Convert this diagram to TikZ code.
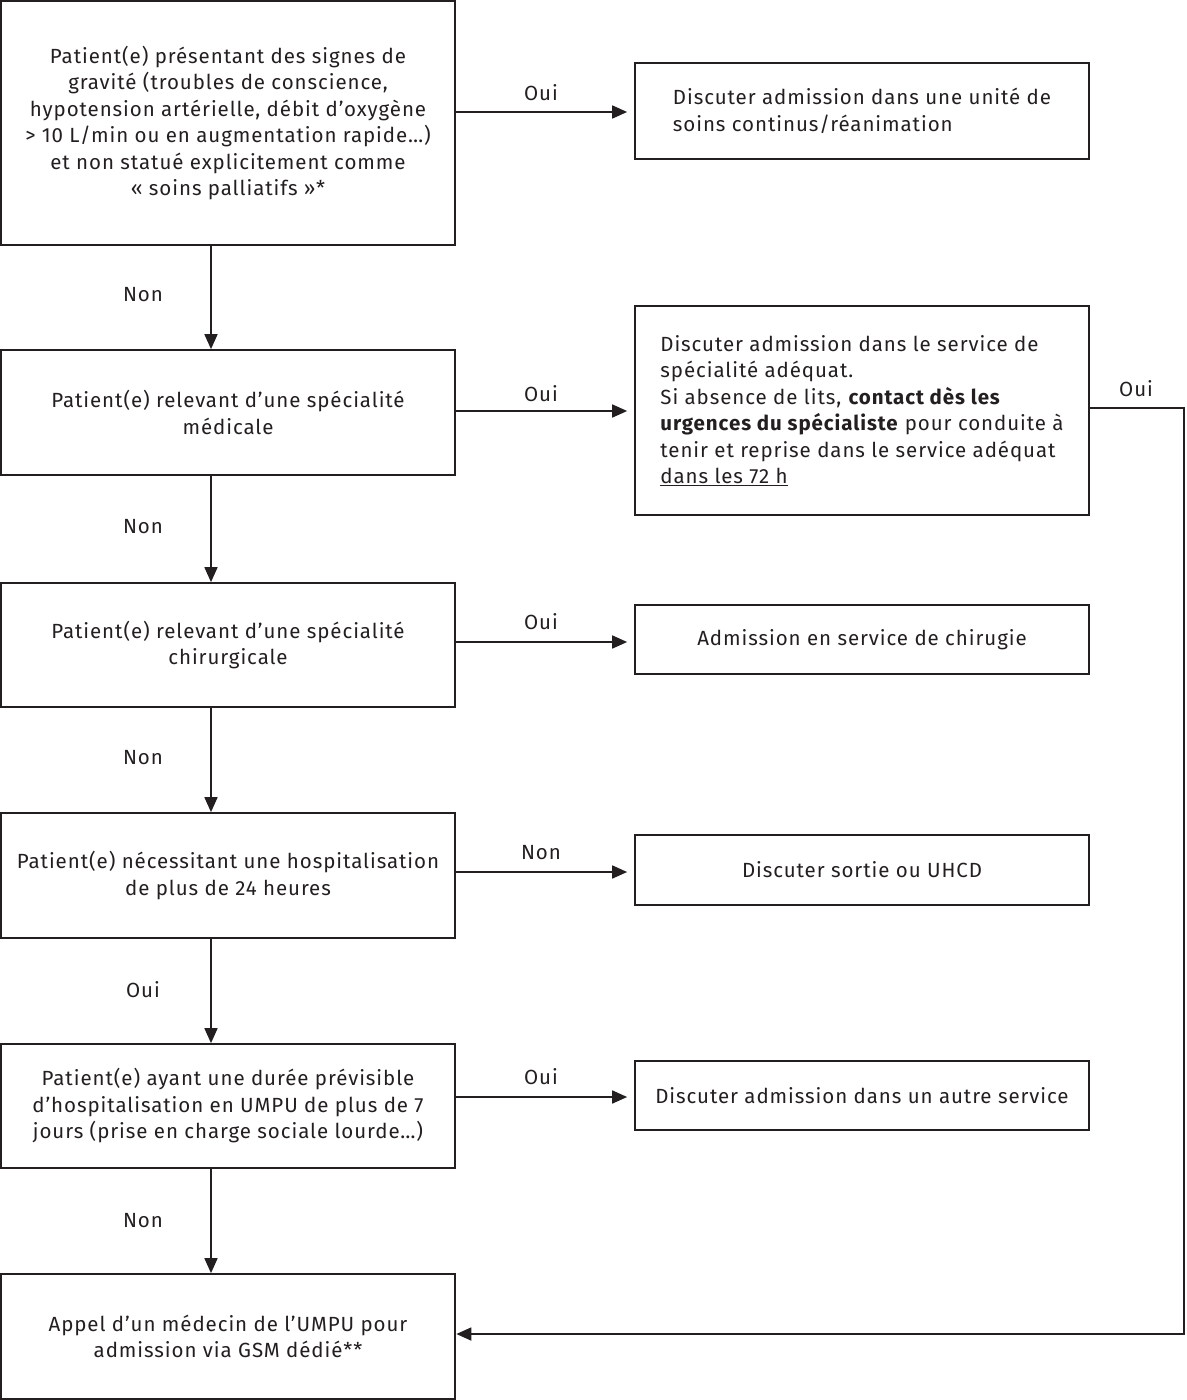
\documentclass[tikz,border=0pt]{standalone}
\usepackage{fontspec}
\setmainfont[LetterSpace=4.5]{Fira Sans}
\usetikzlibrary{arrows.meta}
\definecolor{ink}{HTML}{231F20}
\begin{document}
\begin{tikzpicture}[x=1pt,y=-1pt,
  every node/.style={font=\fontsize{20.5}{26.5}\selectfont, text=ink},
  box/.style={draw=ink, line width=1.7pt, inner sep=0pt, minimum width=454pt},
  arr/.style={draw=ink, line width=1.7pt, -{Triangle[length=15pt,width=13pt]}},
  lbl/.style={inner sep=0pt}]
\useasboundingbox (0,0) rectangle (1186,1400);
% left column
\node[box, minimum height=244pt, align=center] (b1) at (228,123) {Patient(e) présentant des signes de\\gravité (troubles de conscience,\\hypotension artérielle, débit d’oxygène\\> 10 L/min ou en augmentation rapide…)\\et non statué explicitement comme\\«~soins palliatifs~»*};
\node[box, minimum height=125pt, align=center] (b2) at (228,412.5) {Patient(e) relevant d’une spécialité\\médicale};
\node[box, minimum height=124pt, align=center] (b3) at (228,645) {Patient(e) relevant d’une spécialité\\chirurgicale};
\node[box, minimum height=125pt, align=center] (b4) at (228,875.5) {Patient(e) nécessitant une hospitalisation\\de plus de 24 heures};
\node[box, minimum height=124pt, align=center] (b5) at (228,1106) {Patient(e) ayant une durée prévisible\\d’hospitalisation en UMPU de plus de 7\\jours (prise en charge sociale lourde…)};
\node[box, minimum height=125pt, align=center] (b6) at (228,1336.5) {Appel d’un médecin de l’UMPU pour\\admission via GSM dédié**};
% right column
\node[box, minimum height=96pt, align=left] (r1) at (862,111) {Discuter admission dans une unité de\\soins continus/réanimation};
\node[box, minimum height=209pt, align=left] (r2) at (862,410.5) {Discuter admission dans le service de\\spécialité adéquat.\\Si absence de lits, \textbf{contact dès les}\\\textbf{urgences du spécialiste} pour conduite à\\tenir et reprise dans le service adéquat\\\underline{dans les 72 h}};
\node[box, minimum height=69pt, align=center] (r3) at (862,639.5) {Admission en service de chirugie};
\node[box, minimum height=70pt, align=center] (r4) at (862,870) {Discuter sortie ou UHCD};
\node[box, minimum height=69pt, align=center] (r5) at (862,1095.5) {Discuter admission dans un autre service};
% vertical connectors
\coordinate (v) at (211,0);
\draw[arr] (b1.south -| v) -- (b2.north -| v);
\draw[arr] (b2.south -| v) -- (b3.north -| v);
\draw[arr] (b3.south -| v) -- (b4.north -| v);
\draw[arr] (b4.south -| v) -- (b5.north -| v);
\draw[arr] (b5.south -| v) -- (b6.north -| v);
\node[lbl] (n1) at (143,295) {Non};
\node[lbl] (n2) at (143,527) {Non};
\node[lbl] (n3) at (143,758) {Non};
\node[lbl] (n4) at (143,990) {Oui};
\node[lbl] (n5) at (143,1221) {Non};
% horizontal connectors
\coordinate (h1) at (0,112);
\coordinate (h2) at (0,411);
\coordinate (h3) at (0,642);
\coordinate (h4) at (0,872);
\coordinate (h5) at (0,1097);
\draw[arr, shorten >=7pt] (b1.east |- h1) -- (r1.west |- h1);
\draw[arr, shorten >=7pt] (b2.east |- h2) -- (r2.west |- h2);
\draw[arr, shorten >=7pt] (b3.east |- h3) -- (r3.west |- h3);
\draw[arr, shorten >=7pt] (b4.east |- h4) -- (r4.west |- h4);
\draw[arr, shorten >=7pt] (b5.east |- h5) -- (r5.west |- h5);
\node[lbl] (o1) at (541,93) {Oui};
\node[lbl] (o2) at (541,394) {Oui};
\node[lbl] (o3) at (541,622) {Oui};
\node[lbl] (o4) at (541,853) {Non};
\node[lbl] (o5) at (541,1077) {Oui};
% loop
\coordinate (c1) at (1184,408);
\coordinate (c2) at (1184,1334);
\draw[arr, shorten >=0.5pt] (r2.east |- c1) -- (c1) -- (c2) -- (b6.east |- c2);
\node[lbl] (o6) at (1136,389) {Oui};
\end{tikzpicture}
\end{document}
